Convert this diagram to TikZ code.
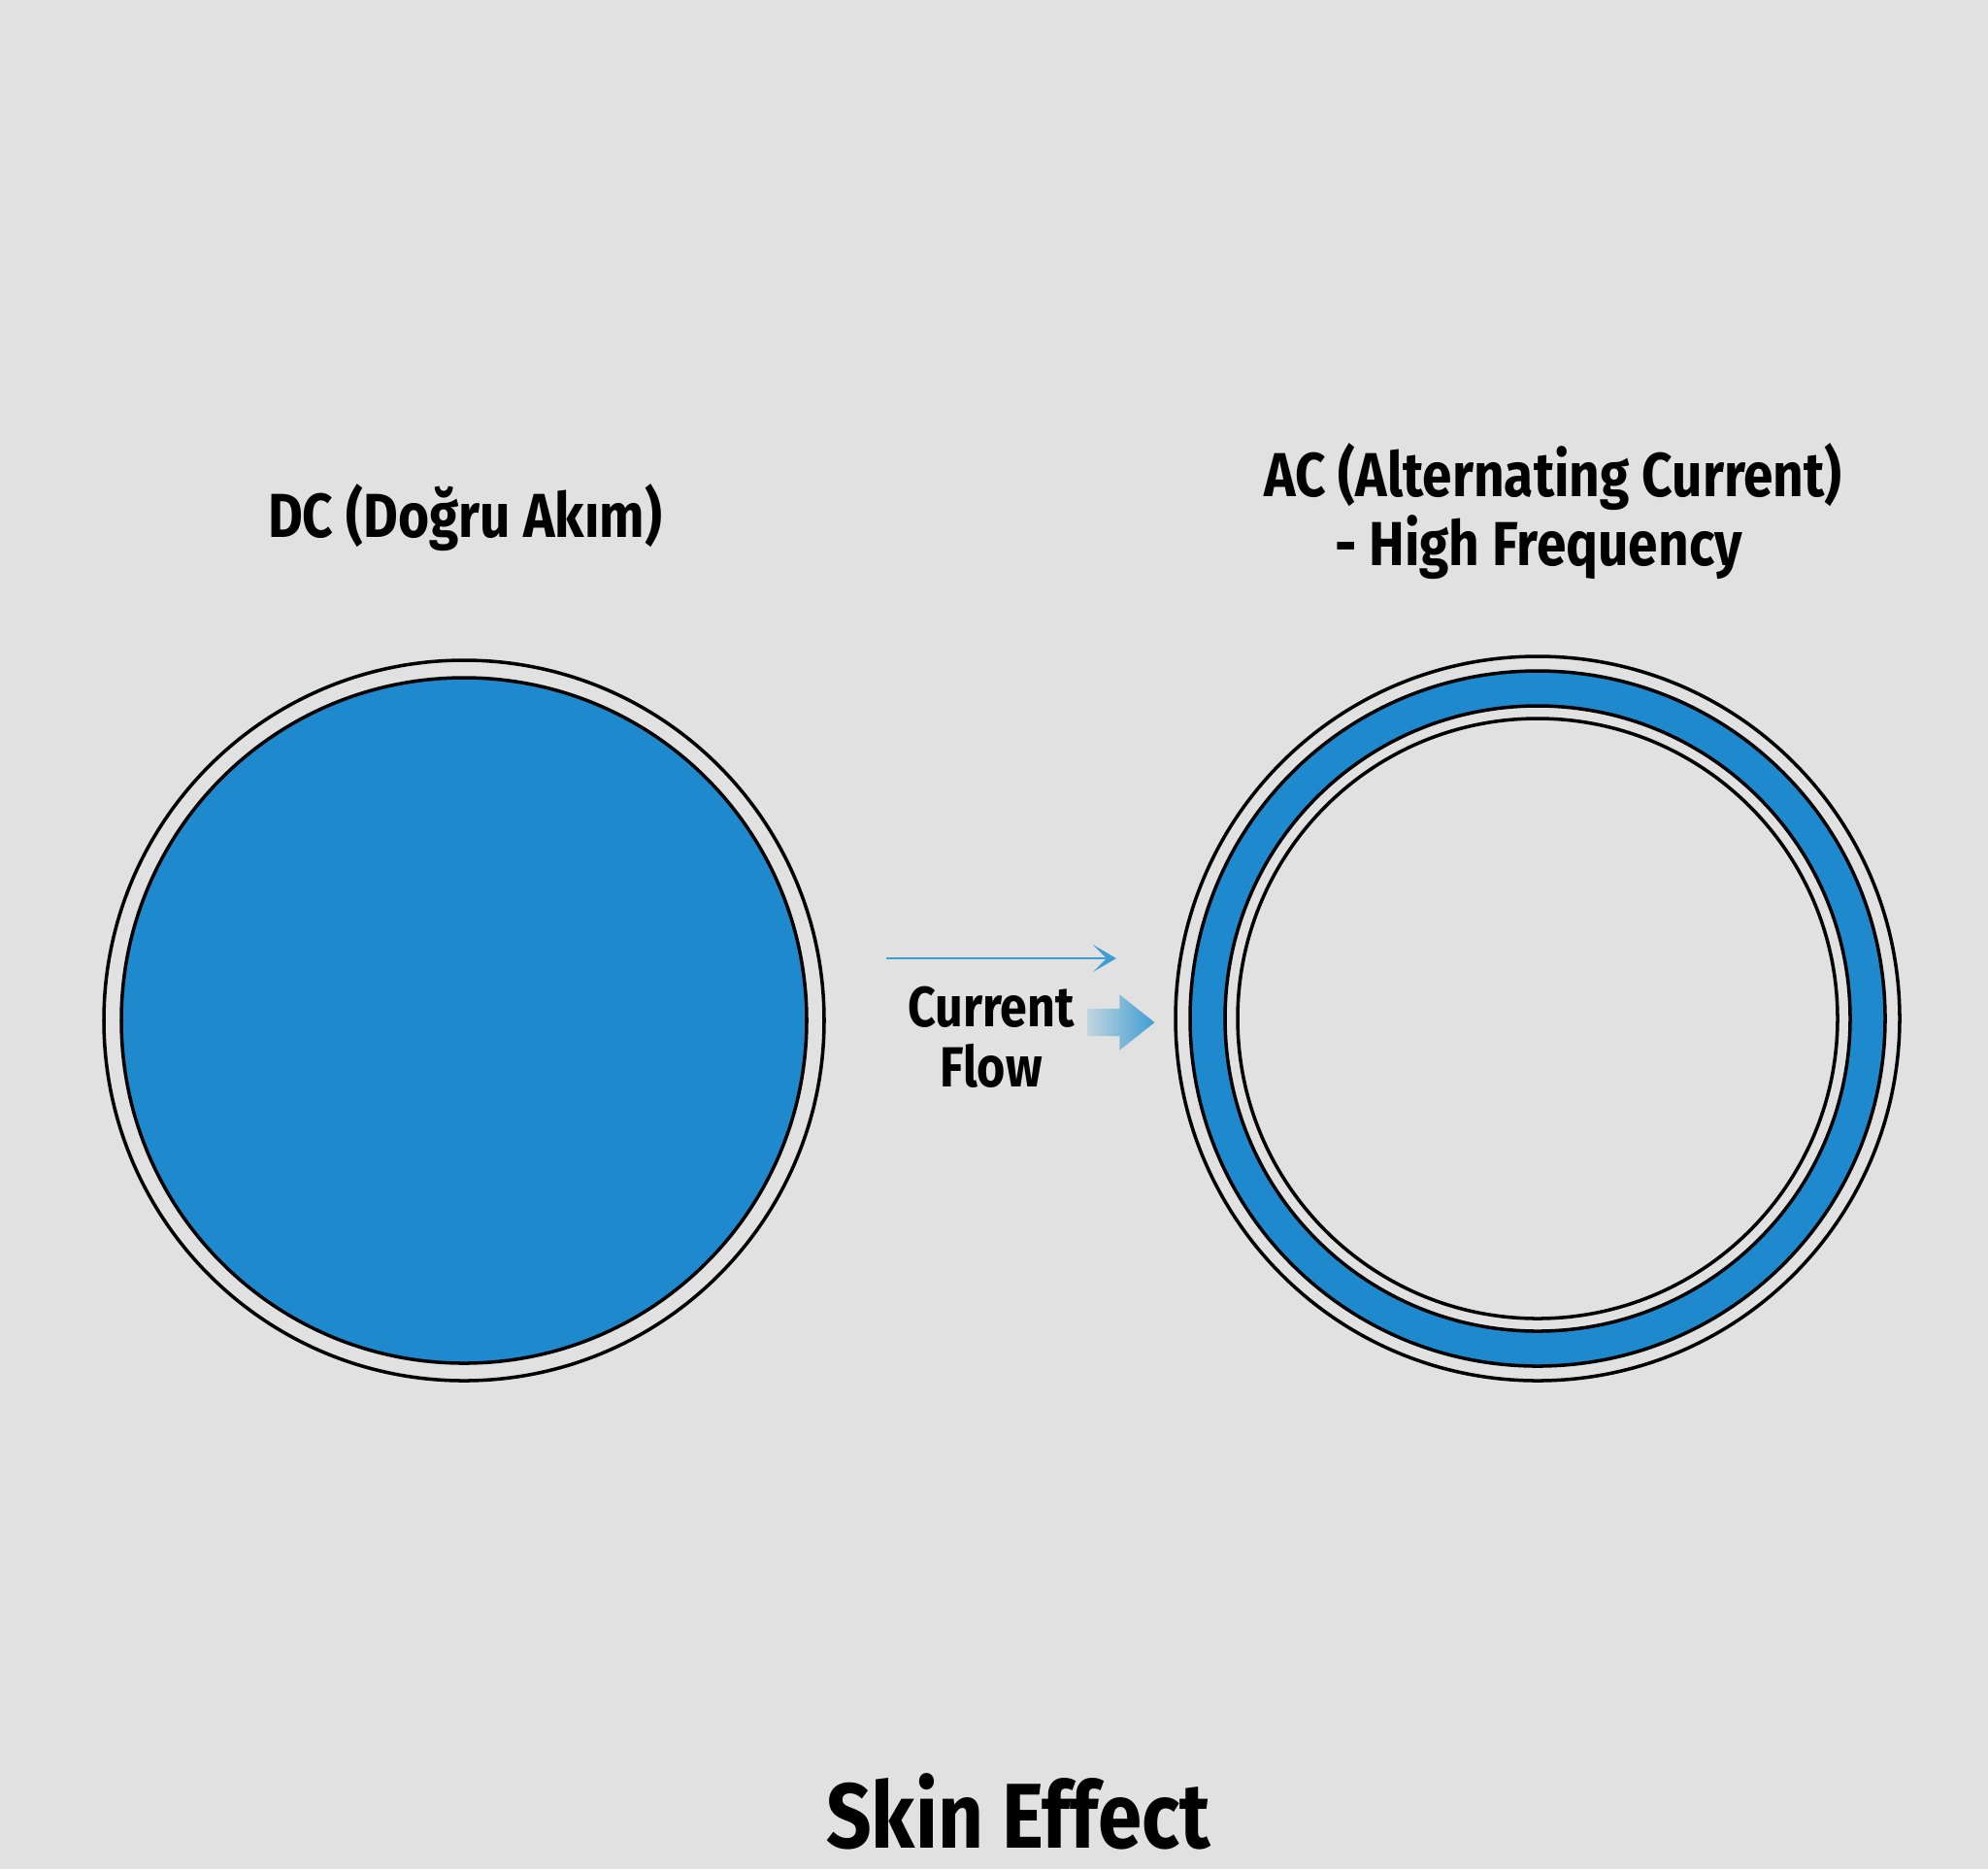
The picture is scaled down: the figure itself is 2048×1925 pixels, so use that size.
\documentclass[tikz,border=0pt]{standalone}
\usepackage{fontspec}
\setmainfont[FakeStretch=0.86]{Fira Sans}
\usetikzlibrary{arrows.meta,positioning,shapes.arrows}
\definecolor{skinBg}{RGB}{225,225,225}
\definecolor{skinBlue}{RGB}{31,137,206}
\definecolor{flowBlue}{RGB}{62,158,212}

\begin{document}
\begin{tikzpicture}[x=0.1mm,y=-0.1mm,
  lbl/.style={font=\bfseries\fontsize{18.2}{20.2}\selectfont,align=center,inner sep=0},
  ring/.style={circle,draw=black,line width=1pt,inner sep=0,outer sep=0},
  thinarrow/.style={-{Stealth[length=2.4mm,width=2.8mm,inset=1.4mm]},draw=flowBlue,line width=0.7pt}
]
  \fill[skinBg] (0,0) rectangle (2048,1925);
  \useasboundingbox (0,0) rectangle (2048,1925);

  % DC conductor
  \node[ring,minimum size=74.2mm] (dcout) at (478,1051) {};
  \node[ring,fill=skinBlue,minimum size=70.6mm] (dcin) at (478,1051) {};
  \node[lbl] (dc) at (479,533) {DC (Doğru Akım)};

  % AC conductor, current only near the skin
  \node[ring,minimum size=74.6mm] (acout) at (1584,1049) {};
  \node[ring,fill=skinBlue,minimum size=71.6mm] (acskin) at (1584,1049) {};
  \node[ring,fill=skinBg,minimum size=64.4mm] (achole) at (1584,1049) {};
  \node[ring,minimum size=61.8mm] (accore) at (1584,1049) {};
  \node[lbl] (ac) at (1600,527) {AC (Alternating Current)\\ - High Frequency\hspace*{3mm}};

  % flow
  \coordinate (fa) at (913,987);
  \coordinate (fb) at (1150,987);
  \draw[thinarrow] (fa) -- (fb);
  \node[single arrow,inner xsep=0,inner ysep=1.35mm,minimum height=6.9mm,
    single arrow head extend=1.45mm,single arrow tip angle=77,
    left color=flowBlue!20!skinBg,right color=flowBlue] (flow) at (1146,1053) {};
  \node[lbl,font=\bfseries\fontsize{16.6}{17.6}\selectfont] (cf) at (1021,1068) {Current\\Flow};

  \node[lbl,font=\bfseries\fontsize{27}{30}\selectfont] (title) at (1049,1866) {Skin Effect};
\end{tikzpicture}
\end{document}
